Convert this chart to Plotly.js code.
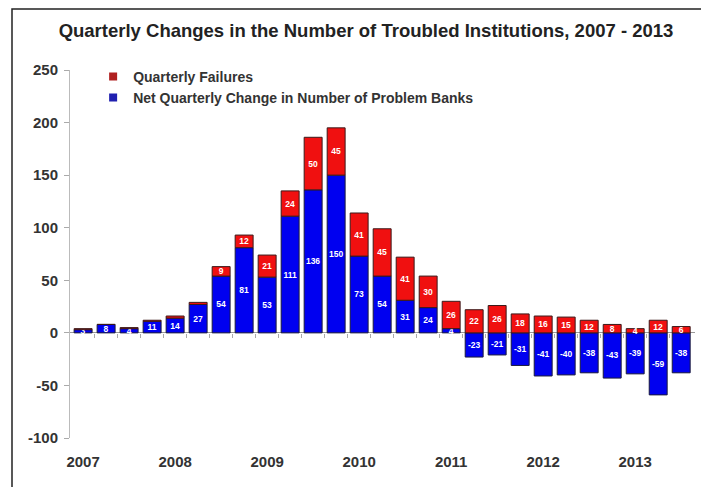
<!DOCTYPE html>
<html>
<head>
<meta charset="utf-8">
<script src="https://cdn.plot.ly/plotly-3.0.1.min.js"></script>
<style>
html,body{margin:0;padding:0;background:#fff;}
#chart{width:701px;height:487px;}
</style>
</head>
<body>
<div id="chart"></div>
<script>
const quarters = ['2007Q1','2007Q2','2007Q3','2007Q4','2008Q1','2008Q2','2008Q3','2008Q4',
  '2009Q1','2009Q2','2009Q3','2009Q4','2010Q1','2010Q2','2010Q3','2010Q4',
  '2011Q1','2011Q2','2011Q3','2011Q4','2012Q1','2012Q2','2012Q3','2012Q4',
  '2013Q1','2013Q2','2013Q3'];
const netChange = [3,8,4,11,14,27,54,81,53,111,136,150,73,54,31,24,4,-23,-21,-31,-41,-40,-38,-43,-39,-59,-38];
const failures = [1,0,1,1,2,2,9,12,21,24,50,45,41,45,41,30,26,22,26,18,16,15,12,8,4,12,6];
const yearLabels = ['2007','2008','2009','2010','2011','2012','2013'];
const yTicks = [250,200,150,100,50,0,-50,-100];
const seriesNames = ['Quarterly Failures','Net Quarterly Change in Number of Problem Banks'];

const xIdx = quarters.map((q,i)=>i);
const yearPos = yearLabels.map(y => quarters.indexOf(y+'Q1'));
const boundaries = quarters.slice(1).map((q,i)=>i+0.5);

const fontFam = '"Liberation Sans", Arial, sans-serif';
const xr = [-0.57, 26.6];
const labelFont = {color:'#ffffff', size:8.5, family:fontFam, weight:'bold'};

const traces = [
  {
    type:'bar', name:seriesNames[1], showlegend:false,
    x:xIdx, y:netChange, text:netChange.map(String),
    textposition:'inside', insidetextanchor:'middle', textangle:0,
    textfont:labelFont, insidetextfont:labelFont,
    marker:{color:'#0000f0', line:{color:'#1a1a3a', width:1}},
    hoverinfo:'x+y'
  },
  {
    type:'bar', name:seriesNames[0], showlegend:false,
    x:xIdx, y:failures, text:failures.map(v=>v>=4?String(v):''),
    textposition:'inside', insidetextanchor:'middle', textangle:0,
    textfont:labelFont, insidetextfont:labelFont,
    marker:{color:'#f01010', line:{color:'#3a1a1a', width:1}},
    hoverinfo:'x+y'
  },
  {
    type:'scatter', x:[0], y:[null], xaxis:'x2', showlegend:false, hoverinfo:'skip', mode:'markers'
  },
  {
    type:'scatter', mode:'markers', name:seriesNames[1], x:[null], y:[null], legendrank:2,
    marker:{symbol:'square', size:8, color:'#2020b0'}, hoverinfo:'skip'
  },
  {
    type:'scatter', mode:'markers', name:seriesNames[0], x:[null], y:[null], legendrank:1,
    marker:{symbol:'square', size:8, color:'#b02020'}, hoverinfo:'skip'
  }
];

const layout = {
  width:701, height:487,
  margin:{l:70, r:6, t:70, b:49},
  paper_bgcolor:'#ffffff', plot_bgcolor:'#ffffff',
  barmode:'relative', bargap:0.22,
  uniformtext:{mode:'show', minsize:8.5},
  font:{family:fontFam, color:'#333333'},
  title:{text:'Quarterly Changes in the Number of Troubled Institutions, 2007 - 2013',
    font:{size:18.5, color:'#222222', family:fontFam, weight:'bold'},
    x:0.4736, xref:'paper', xanchor:'center', y:0.938, yanchor:'middle'},
  xaxis:{range:xr, tickmode:'array', tickvals:yearPos, ticktext:yearLabels,
    ticks:'', showline:false, showgrid:false, zeroline:false,
    tickfont:{size:15, color:'#333333', family:fontFam, weight:'bold'},
    ticklabelstandoff:13, fixedrange:true},
  xaxis2:{range:xr, overlaying:'x', anchor:'free', position:100/350,
    tickmode:'array', tickvals:boundaries, ticks:'outside', ticklen:4, tickcolor:'#aaaaaa',
    showticklabels:false, showline:false, showgrid:false, zeroline:false},
  yaxis:{range:[-100,250], tickmode:'array', tickvals:yTicks, ticktext:yTicks.map(String),
    ticks:'outside', ticklen:5, tickcolor:'#aaaaaa', ticklabelstandoff:3,
    showline:true, linecolor:'#bbbbbb', linewidth:1,
    showgrid:false, zeroline:true, zerolinecolor:'#999999', zerolinewidth:1,
    tickfont:{size:15, color:'#333333', family:fontFam, weight:'bold'}},
  legend:{x:0.037, y:1.025, xanchor:'left', yanchor:'top', traceorder:'normal',
    bgcolor:'rgba(0,0,0,0)', font:{size:14, color:'#333333', family:fontFam, weight:'bold'},
    tracegroupgap:0},
  shapes:[{type:'path', xref:'paper', yref:'paper',
    path:'M -0.0928,-0.2 L -0.0928,1.1658 L 1.02,1.1658',
    line:{color:'#222222', width:1.5}}],
  showlegend:true
};

Plotly.newPlot('chart', traces, layout, {staticPlot:true, displayModeBar:false});
</script>
</body>
</html>
